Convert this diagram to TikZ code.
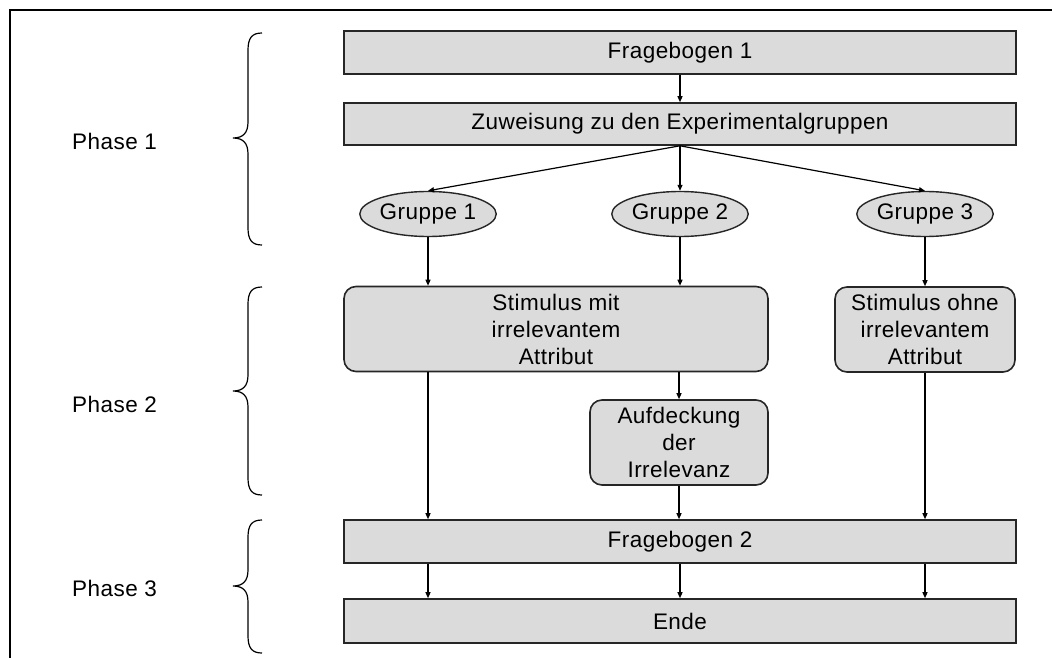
\documentclass[tikz,border=0pt]{standalone}
\usepackage{fontspec}
\setmainfont[LetterSpace=2]{Liberation Sans}
\usetikzlibrary{shapes.geometric,arrows.meta}
\begin{document}
\begin{tikzpicture}[x=1pt,y=-1pt,
  font=\fontsize{22.5}{27}\selectfont,
  box/.style={draw=black!85, line width=1.6pt, fill=black!14, minimum width=672pt, minimum height=43pt, inner sep=0pt, align=center},
  rbox/.style={draw=black!85, line width=1.6pt, fill=black!14, rounded corners=12pt, inner sep=0pt, align=center},
  grp/.style={draw=black!85, line width=1.4pt, fill=black!14, ellipse, minimum width=134pt, minimum height=45pt, inner sep=0pt},
  arr/.style={line width=1.2pt, -{Triangle[length=6pt,width=5pt]}},
  brc/.style={line width=1.2pt},
  frame/.style={line width=2pt}]
\useasboundingbox (0,0) rectangle (1052,658);
\draw[frame] (10,658) -- (10,10) -- (1052,10);

% phase labels
\node[anchor=west, inner sep=0pt] (p1) at (72,141) {Phase 1};
\node[anchor=west, inner sep=0pt] (p2) at (72,404) {Phase 2};
\node[anchor=west, inner sep=0pt] (p3) at (72,588) {Phase 3};

% braces
\draw[brc] (262,33) .. controls (252,33) and (248,38) .. (248,50) -- (248,122) .. controls (248,133) and (243,138) .. (233,138) .. controls (243,138) and (248,143) .. (248,154) -- (248,228) .. controls (248,240) and (252,245) .. (262,245);
\draw[brc] (262,287) .. controls (252,287) and (248,292) .. (248,304) -- (248,375) .. controls (248,386) and (243,391) .. (233,391) .. controls (243,391) and (248,396) .. (248,407) -- (248,478) .. controls (248,490) and (252,495) .. (262,495);
\draw[brc] (262,520) .. controls (252,520) and (248,525) .. (248,537) -- (248,570) .. controls (248,581) and (243,586) .. (233,586) .. controls (243,586) and (248,591) .. (248,602) -- (248,636) .. controls (248,648) and (252,653) .. (262,653);

% nodes
\node[box] (f1) at (680,52.5) {Fragebogen 1};
\node[box, minimum height=42pt] (zuw) at (680,124) {Zuweisung zu den Experimentalgruppen};
\node[grp] (g1) at (428,214) {Gruppe 1};
\node[grp] (g2) at (680,214) {Gruppe 2};
\node[grp] (g3) at (925,214) {Gruppe 3};
\node[rbox, minimum width=424pt, minimum height=85pt] (s1) at (556,329) {Stimulus mit\\irrelevantem\\Attribut};
\node[rbox, minimum width=180pt, minimum height=85pt] (s3) at (925,329.5) {Stimulus ohne\\irrelevantem\\Attribut};
\node[rbox, minimum width=178pt, minimum height=85pt] (auf) at (679,442.5) {Aufdeckung\\der\\Irrelevanz};
\node[box] (f2) at (680,541.5) {Fragebogen 2};
\node[box, minimum height=44pt] (ende) at (680,621) {Ende};

% connectors
\draw[arr] (f1.south) -- (zuw.north);
\draw[arr] (zuw.south) -- (g1.north);
\draw[arr] (zuw.south) -- (g2.north);
\draw[arr] (zuw.south) -- (g3.north);
\draw[arr] (g1.south) -- (g1.south |- s1.north);
\draw[arr] (g2.south) -- (g2.south |- s1.north);
\draw[arr] (g3.south) -- (s3.north);
\draw[arr] (auf.north |- s1.south) -- (auf.north);
\draw[arr] (g1.south |- s1.south) -- (g1.south |- f2.north);
\draw[arr] (s3.south) -- (s3.south |- f2.north);
\draw[arr] (auf.south) -- (auf.south |- f2.north);
\draw[arr] (g1.south |- f2.south) -- (g1.south |- ende.north);
\draw[arr] (f2.south) -- (ende.north);
\draw[arr] (s3.south |- f2.south) -- (s3.south |- ende.north);
\end{tikzpicture}
\end{document}
